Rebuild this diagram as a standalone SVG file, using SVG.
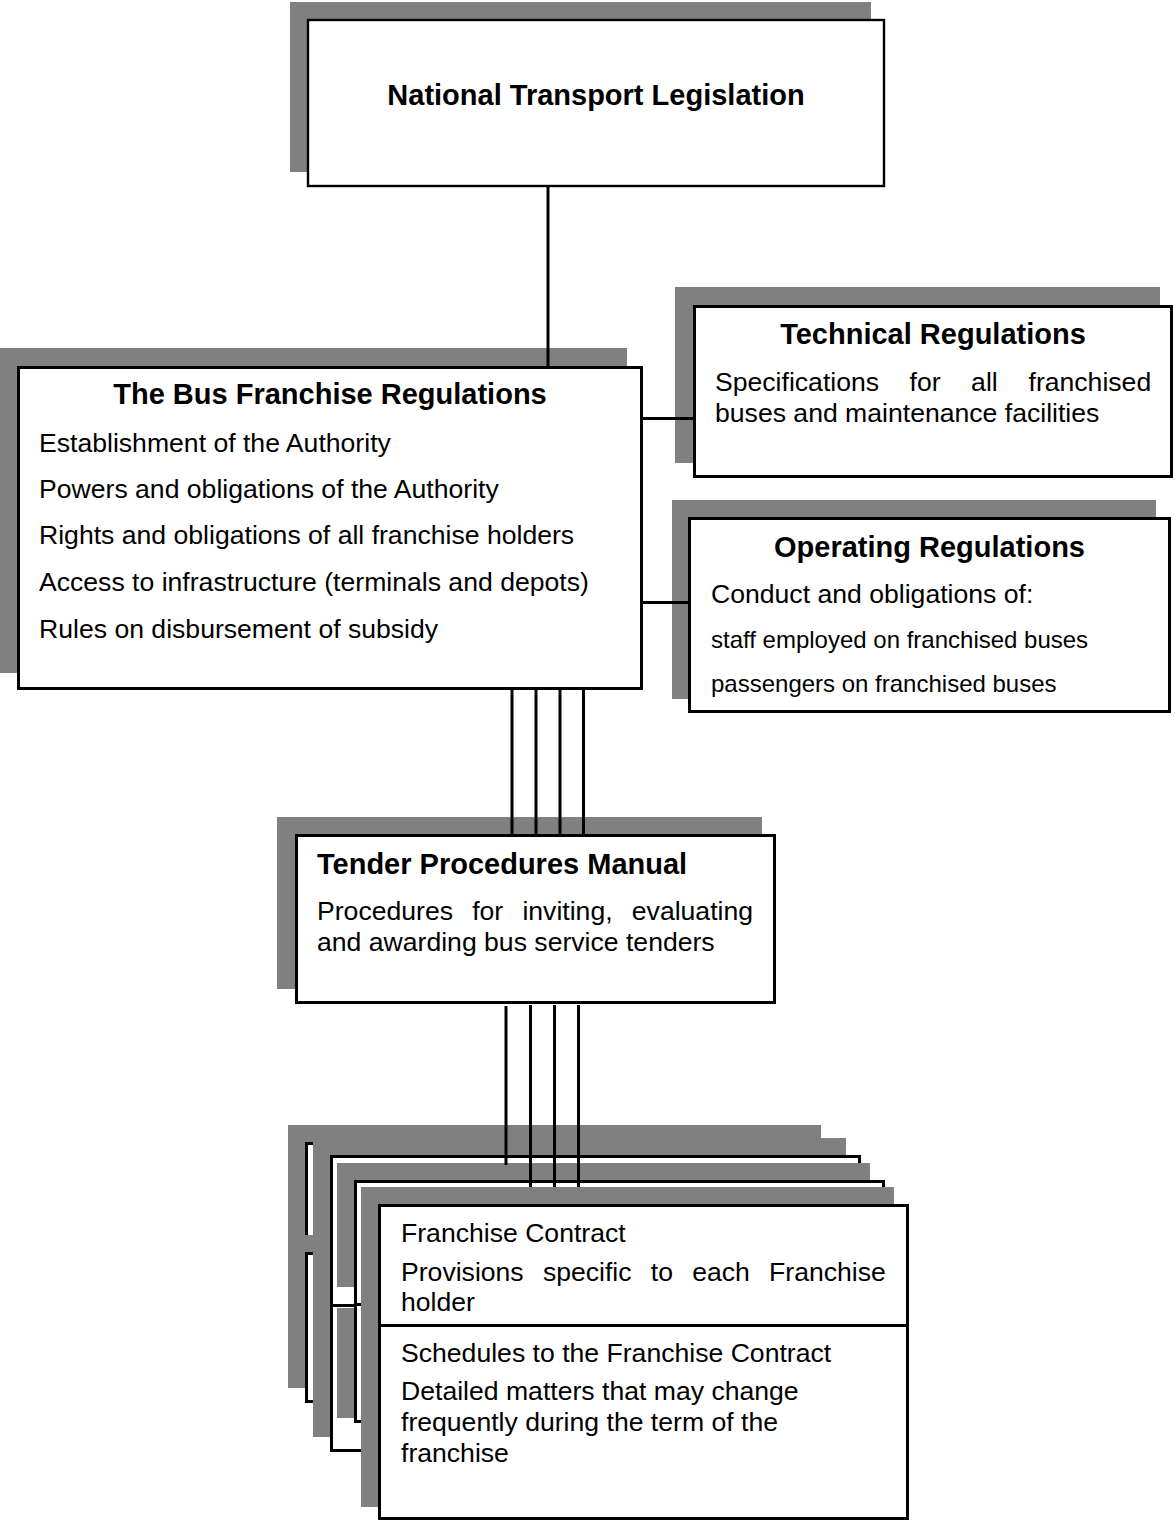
<svg xmlns="http://www.w3.org/2000/svg" width="1175" height="1523" viewBox="0 0 1175 1523">
<style>
.sh{fill:#808080;stroke:none}
.bx{fill:#fff;stroke:#000;stroke-width:3}
.ln{stroke:#000;stroke-width:3;fill:none}
text{font-family:"Liberation Sans",Arial,sans-serif;fill:#000}
.t{font-size:29px;font-weight:bold}
.b{font-size:26.6px}
.s{font-size:24px}
</style>
<rect width="1175" height="1523" fill="#fff"/>
<g id="national-transport-legislation">
<rect class="sh" x="290" y="2" width="581" height="170"/>
<rect class="bx" x="308" y="20" width="576" height="166" style="stroke-width:2.4"/>
<text class="t" x="596" y="105" text-anchor="middle">National Transport Legislation</text>
</g>
<g id="bus-franchise-regulations">
<rect class="sh" x="0" y="348" width="627" height="325"/>
<rect class="bx" x="18.5" y="367.5" width="623" height="321"/>
<text class="t" x="330" y="404" text-anchor="middle">The Bus Franchise Regulations</text>
<text class="b" x="39" y="452">Establishment of the Authority</text>
<text class="b" x="39" y="498">Powers and obligations of the Authority</text>
<text class="b" x="39" y="544">Rights and obligations of all franchise holders</text>
<text class="b" x="39" y="591">Access to infrastructure (terminals and depots)</text>
<text class="b" x="39" y="638">Rules on disbursement of subsidy</text>
</g>
<g id="technical-regulations">
<rect class="sh" x="675" y="287" width="485" height="176"/>
<rect class="bx" x="694.5" y="306.5" width="477" height="170"/>
<text class="t" x="933" y="344" text-anchor="middle">Technical Regulations</text>
<text class="b" y="391"><tspan x="715">Specifications</tspan><tspan x="909.6">for</tspan><tspan x="971.1">all</tspan><tspan x="1028.5">franchised</tspan></text>
<text class="b" x="715" y="422">buses and maintenance facilities</text>
</g>
<g id="operating-regulations">
<rect class="sh" x="672" y="500" width="484" height="199"/>
<rect class="bx" x="689.5" y="518.5" width="480" height="193"/>
<text class="t" x="929.5" y="557" text-anchor="middle">Operating Regulations</text>
<text class="b" x="711" y="603">Conduct and obligations of:</text>
<text class="s" x="711" y="648">staff employed on franchised buses</text>
<text class="s" x="711" y="692">passengers on franchised buses</text>
</g>
<g id="tender-procedures-manual">
<rect class="sh" x="277" y="817" width="485" height="172"/>
<rect class="bx" x="296.5" y="835.5" width="478" height="167"/>
<text class="t" x="317" y="874">Tender Procedures Manual</text>
<text class="b" y="920"><tspan x="317">Procedures</tspan><tspan x="472.2">for</tspan><tspan x="522.4">inviting,</tspan><tspan x="631.8">evaluating</tspan></text>
<text class="b" x="317" y="951">and awarding bus service tenders</text>
</g>
<g id="franchise-contract-stack">
<rect class="sh" x="288" y="1125" width="533" height="123"/>
<rect class="bx" x="306.5" y="1143.5" width="530" height="120"/>
<rect class="sh" x="288" y="1235" width="533" height="153"/>
<rect class="bx" x="306.5" y="1253.5" width="530" height="148"/>
<rect class="sh" x="313" y="1138" width="533" height="299"/>
<rect class="bx" x="331.5" y="1156.5" width="528" height="294"/>
<line class="ln" x1="330" y1="1305.5" x2="861" y2="1305.5"/>
<rect class="sh" x="337" y="1163" width="533" height="124"/>
<rect class="sh" x="337" y="1308" width="533" height="110"/>
<rect class="bx" x="355.5" y="1181.5" width="528" height="240"/>
<line class="ln" x1="354" y1="1304.5" x2="885" y2="1304.5"/>
</g>
<g id="connectors">
<line class="ln" x1="548" y1="187" x2="548" y2="366"/>
<line class="ln" x1="643" y1="418.5" x2="693" y2="418.5"/>
<line class="ln" x1="643" y1="602.5" x2="688" y2="602.5"/>
<line class="ln" x1="512" y1="690" x2="512" y2="834"/>
<line class="ln" x1="536" y1="690" x2="536" y2="834"/>
<line class="ln" x1="560" y1="690" x2="560" y2="834"/>
<line class="ln" x1="583.5" y1="690" x2="583.5" y2="834"/>
<line class="ln" x1="506" y1="1006" x2="506" y2="1165"/>
<line class="ln" x1="530.5" y1="1005" x2="530.5" y2="1187"/>
<line class="ln" x1="554.5" y1="1005" x2="554.5" y2="1187"/>
<line class="ln" x1="578.5" y1="1005" x2="578.5" y2="1187"/>
</g>
<g id="franchise-contract">
<rect class="sh" x="361" y="1187" width="533" height="320"/>
<rect class="bx" x="379.5" y="1205.5" width="528" height="313"/>
<line class="ln" x1="378" y1="1325.5" x2="909" y2="1325.5"/>
<text class="b" x="401" y="1242">Franchise Contract</text>
<text class="b" y="1281"><tspan x="401">Provisions</tspan><tspan x="542.9">specific</tspan><tspan x="650.8">to</tspan><tspan x="692.2">each</tspan><tspan x="769.1">Franchise</tspan></text>
<text class="b" x="401" y="1311">holder</text>
<text class="b" x="401" y="1362">Schedules to the Franchise Contract</text>
<text class="b" x="401" y="1400">Detailed matters that may change</text>
<text class="b" x="401" y="1431">frequently during the term of the</text>
<text class="b" x="401" y="1462">franchise</text>
</g>
</svg>
